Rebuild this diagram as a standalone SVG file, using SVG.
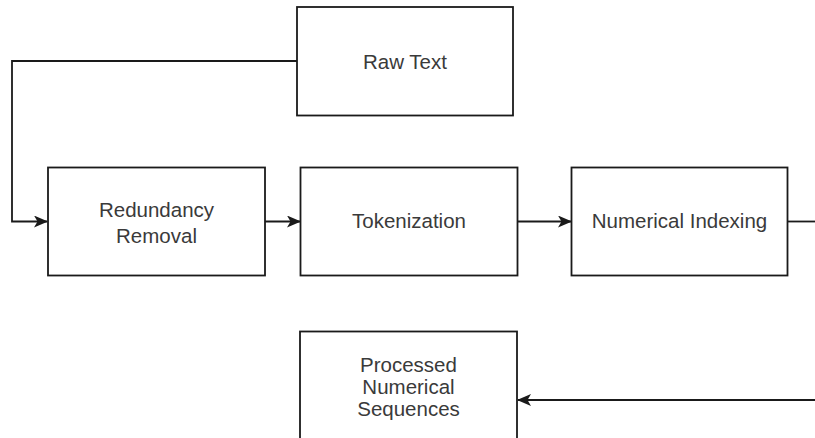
<svg xmlns="http://www.w3.org/2000/svg" width="815" height="438" viewBox="0 0 815 438">
  <style>
    .box { fill: #ffffff; stroke: #1a1a1a; stroke-width: 1.8; }
    .lbl { font-family: "Liberation Sans", Arial, sans-serif; font-size: 20.5px; fill: #3a3a3a; text-anchor: middle; }
    .edge { fill: none; stroke: #1a1a1a; stroke-width: 1.8; }
  </style>
  <defs>
    <marker id="arrow" viewBox="0 0 14 12" refX="13" refY="6" markerWidth="14" markerHeight="12" markerUnits="userSpaceOnUse" orient="auto">
      <path d="M0,0 L14,6 L0,12 L3.5,6 Z" fill="#1a1a1a"/>
    </marker>
  </defs>

  <g id="connectors">
    <path class="edge" d="M297,61 H12 V221.5 H47" marker-end="url(#arrow)"/>
    <path class="edge" d="M265,221.5 H300" marker-end="url(#arrow)"/>
    <path class="edge" d="M517,221.5 H571" marker-end="url(#arrow)"/>
    <path class="edge" d="M788,221.5 H815"/>
    <path class="edge" d="M815,400 H518" marker-end="url(#arrow)"/>
  </g>

  <g id="raw-text">
    <rect class="box" x="297" y="7" width="216" height="108.5"/>
    <text class="lbl" x="405" y="68.5">Raw Text</text>
  </g>

  <g id="redundancy-removal">
    <rect class="box" x="48" y="167.5" width="217" height="108"/>
    <text class="lbl" x="156.5" y="216.5">Redundancy</text>
    <text class="lbl" x="156.5" y="242.5">Removal</text>
  </g>

  <g id="tokenization">
    <rect class="box" x="300.5" y="167.5" width="217" height="108"/>
    <text class="lbl" x="409" y="227.5">Tokenization</text>
  </g>

  <g id="numerical-indexing">
    <rect class="box" x="571.5" y="167.5" width="216" height="108"/>
    <text class="lbl" x="679.5" y="228">Numerical Indexing</text>
  </g>

  <g id="processed-sequences">
    <rect class="box" x="300" y="331.5" width="217" height="108.5"/>
    <text class="lbl" x="408.5" y="371.5">Processed</text>
    <text class="lbl" x="408.5" y="393.5">Numerical</text>
    <text class="lbl" x="408.5" y="415.5">Sequences</text>
  </g>
</svg>
